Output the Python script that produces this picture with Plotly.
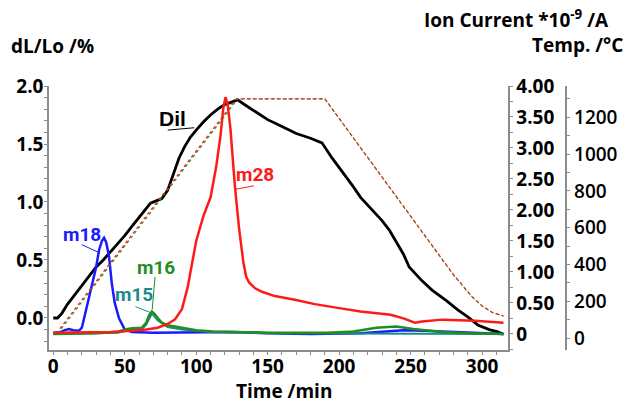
import plotly.graph_objects as go

# ---------------- data ----------------
dil_t = [0, 3, 6, 10, 15, 20, 25, 30, 35, 40, 45, 50, 55, 60, 65, 68, 72, 76, 80, 84, 88, 92, 96, 100,
         105, 110, 115, 120, 125, 129, 135, 140, 150, 160, 170, 180, 188, 195, 203, 210, 215, 222, 230,
         235, 240, 245, 249, 252, 258, 265, 275, 283, 290, 297, 305, 311, 315]
dil_v = [0.0, 0.0, 0.04, 0.12, 0.2, 0.28, 0.36, 0.44, 0.5, 0.57, 0.64, 0.71, 0.79, 0.87, 0.95, 0.99,
         1.01, 1.03, 1.1, 1.24, 1.38, 1.48, 1.56, 1.62, 1.69, 1.75, 1.80, 1.84, 1.86, 1.88, 1.83, 1.79,
         1.71, 1.65, 1.59, 1.55, 1.51, 1.38, 1.25, 1.13, 1.04, 0.95, 0.84, 0.76, 0.65, 0.55, 0.44, 0.40,
         0.32, 0.24, 0.15, 0.07, 0.01, -0.06, -0.10, -0.12, -0.14]

m28_t = [0, 20, 40, 55, 65, 73, 80, 85, 90, 94, 97, 100, 105, 110, 114, 117, 119, 120.5, 122, 124, 127,
         130, 133, 135, 137, 141, 146, 155, 169, 183, 199, 215, 236, 245, 253, 258, 272, 295, 315]
m28_v = [0.02, 0.02, 0.03, 0.05, 0.07, 0.1, 0.16, 0.23, 0.4, 0.75, 1.1, 1.5, 1.9, 2.2, 2.7, 3.2, 3.65,
         3.82, 3.7, 3.3, 2.4, 1.7, 1.15, 0.92, 0.83, 0.74, 0.68, 0.61, 0.55, 0.48, 0.42, 0.36, 0.31, 0.25,
         0.18, 0.2, 0.23, 0.21, 0.18]

m18_t = [0, 5, 8, 11, 14, 18, 20, 23, 26, 28, 30, 32, 34, 35.5, 37, 39, 41, 43, 46, 50, 55, 70, 100,
         125, 150, 180, 215, 235, 245, 260, 283, 315]
m18_v = [0.02, 0.03, 0.06, 0.08, 0.06, 0.05, 0.1, 0.39, 0.7, 0.9, 1.08, 1.35, 1.5, 1.55, 1.48, 1.25,
         0.8, 0.5, 0.25, 0.07, 0.03, 0.02, 0.03, 0.03, 0.01, 0.0, 0.01, 0.04, 0.06, 0.05, 0.03, 0.0]

m16_t = [0, 30, 45, 50, 55, 62, 65, 67, 69, 71, 73, 76, 80, 85, 92, 100, 112, 125, 150, 192, 210, 226,
         240, 252, 262, 272, 290, 315]
m16_v = [0.0, 0.01, 0.03, 0.07, 0.09, 0.1, 0.18, 0.3, 0.36, 0.32, 0.26, 0.18, 0.14, 0.12, 0.09, 0.06,
         0.04, 0.03, 0.02, 0.02, 0.04, 0.1, 0.12, 0.08, 0.05, 0.03, 0.01, 0.0]

m15_t = [0, 45, 55, 62, 65, 69, 73, 80, 90, 110, 150, 315]
m15_v = [0.0, 0.02, 0.07, 0.08, 0.15, 0.33, 0.22, 0.11, 0.07, 0.03, 0.01, 0.0]

temp1_t = [2, 128, 190, 280, 287, 293, 300, 307, 315]
temp1_v = [25, 1300, 1300, 345, 280, 225, 175, 140, 120]
temp2_t = [3, 129, 190, 280, 287, 293, 300, 307, 315]
temp2_v = [25, 1300, 1300, 343, 278, 224, 174, 139, 119]

x_ticks = [0, 50, 100, 150, 200, 250, 300]
dil_ticks = [0.0, 0.5, 1.0, 1.5, 2.0]
ion_ticks = [0, 0.5, 1.0, 1.5, 2.0, 2.5, 3.0, 3.5, 4.0]
ion_ticktext = ["0", "0.50", "1.00", "1.50", "2.00", "2.50", "3.00", "3.50", "4.00"]
temp_ticks = [0, 200, 400, 600, 800, 1000, 1200]

# ---------------- figure ----------------
FONT = "Open Sans"
LBL = "Roboto"
RED = "#ff1a1a"
BLUE = "#1a1aff"
GREEN = "#1f8f1f"
TEAL = "#1a8a8a"
AX = "#8c8c8c"

fig = go.Figure()
fig.add_trace(go.Scatter(x=temp2_t, y=temp2_v, yaxis="y3", mode="lines",
                         line=dict(color=GREEN, width=1.2, dash="dot")))
fig.add_trace(go.Scatter(x=temp1_t, y=temp1_v, yaxis="y3", mode="lines",
                         line=dict(color=RED, width=1.2, dash="dot")))
fig.add_trace(go.Scatter(x=m18_t, y=m18_v, yaxis="y2", mode="lines", line=dict(color=BLUE, width=2.5)))
fig.add_trace(go.Scatter(x=m15_t, y=m15_v, yaxis="y2", mode="lines", line=dict(color=TEAL, width=2)))
fig.add_trace(go.Scatter(x=m16_t, y=m16_v, yaxis="y2", mode="lines", line=dict(color=GREEN, width=2.5)))
fig.add_trace(go.Scatter(x=m28_t, y=m28_v, yaxis="y2", mode="lines", line=dict(color=RED, width=2.5)))
fig.add_trace(go.Scatter(x=dil_t, y=dil_v, yaxis="y", mode="lines", line=dict(color="black", width=2.8)))

tickfont = dict(family=FONT, size=19, color="black", weight=700)
L, R, T, B = 49, 30, 86, 55
W = 630 - L - R
H = 405 - T - B


def px(xp):
    return (xp - L) / W


def py(yp):
    return (405 - B - yp) / H


common = dict(showgrid=False, zeroline=False, showline=True, linecolor=AX, linewidth=1.5,
              ticks="outside", tickcolor=AX, ticklen=3)

fig.update_layout(
    width=630, height=405, margin=dict(l=L, r=R, t=T, b=B),
    paper_bgcolor="white", plot_bgcolor="white", showlegend=False,
    xaxis=dict(domain=[0, px(518)], range=[-3, 318], tickvals=x_ticks, tickfont=tickfont,
               ticklabelstandoff=-5,
               minor=dict(ticks="outside", ticklen=3, tickcolor=AX, dtick=10), **common),
    yaxis=dict(range=[-0.276, 2.0], tickvals=dil_ticks, tickformat=".1f", tickfont=tickfont,
               ticklabelstandoff=-3,
               minor=dict(ticks="outside", ticklen=3, tickcolor=AX, dtick=0.1), **common),
    yaxis2=dict(range=[-0.26, 4.0], overlaying="y", side="right", anchor="x",
                tickvals=ion_ticks, ticktext=ion_ticktext, tickfont=tickfont,
                minor=dict(ticks="outside", ticklen=3, tickcolor=AX, dtick=0.25), **common),
    yaxis3=dict(range=[-65, 1370], overlaying="y", side="right", anchor="free", position=px(578),
                tickvals=temp_ticks, tickfont=dict(family=FONT, size=19, color="black", weight=600),
                minor=dict(ticks="outside", ticklen=3, tickcolor=AX, dtick=100), **common),
)

titlefont = dict(family=FONT, size=19, color="black", weight=700)
ann = [
    dict(text="dL/Lo /%", x=px(8), y=py(46), xanchor="left"),
    dict(text="Ion Current *10<sup>-9</sup> /A", x=px(624), y=py(19), xanchor="right"),
    dict(text="Temp. /°C", x=px(638), y=py(45), xanchor="right"),
    dict(text="Time /min", x=px(289), y=py(391), xanchor="center"),
]
for a in ann:
    fig.add_annotation(showarrow=False, font=titlefont, xref="paper", yref="paper", yanchor="middle", **a)

labels = [
    ("Dil", 83.6, 1.72, "y", "black", "Liberation Sans", 21),
    ("m28", 141, 2.57, "y2", RED, LBL, 19),
    ("m18", 19.9, 1.60, "y2", BLUE, LBL, 19),
    ("m16", 71.9, 1.07, "y2", GREEN, LBL, 19),
    ("m15", 56.8, 0.63, "y2", TEAL, LBL, 19),
]
for txt, x, y, yr, c, fam, sz in labels:
    fig.add_annotation(text=txt, x=x, y=y, xref="x", yref=yr, showarrow=False,
                       font=dict(family=fam, size=sz, color=c, weight=700))

pointers = [
    (80.1, 1.62, 98.6, 1.64, "y", "black"),
    (140.4, 2.39, 126.7, 2.33, "y2", RED),
    (19.9, 1.44, 32.2, 1.31, "y2", BLUE),
    (71.2, 0.92, 69.2, 0.39, "y2", GREEN),
    (57.5, 0.44, 68.5, 0.34, "y2", TEAL),
]
for x0, y0, x1, y1, yr, c in pointers:
    fig.add_shape(type="line", x0=x0, y0=y0, x1=x1, y1=y1, xref="x", yref=yr,
                  line=dict(color=c, width=1))

fig.write_html("out.html")
